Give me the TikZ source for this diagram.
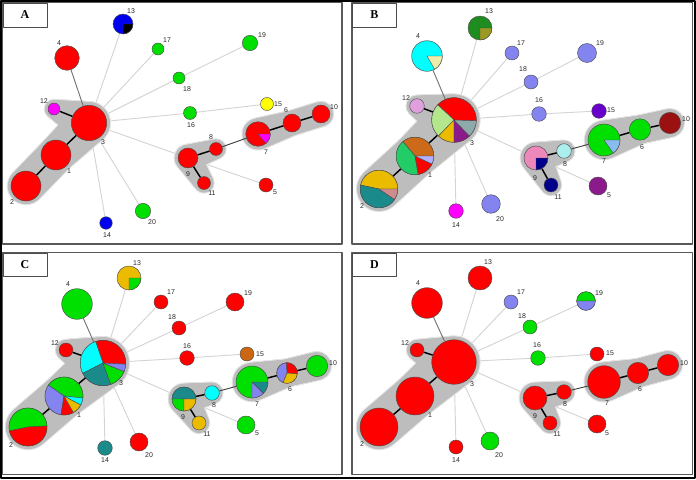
\documentclass[tikz,border=0pt]{standalone}
\usepackage{fontspec}
\setmainfont{Liberation Serif}
\setsansfont{Liberation Sans}
\usetikzlibrary{calc,backgrounds}

\definecolor{hred}{HTML}{FF0000}
\definecolor{hgreen}{HTML}{00E000}
\definecolor{hblue}{HTML}{0000F0}
\definecolor{hmag}{HTML}{FF00FF}
\definecolor{hyel}{HTML}{FFFF00}
\definecolor{hperi}{HTML}{8484F0}
\definecolor{hcyan}{HTML}{00FFFF}
\definecolor{hpale}{HTML}{EEEEAA}
\definecolor{hdkgreen}{HTML}{1E8C1E}
\definecolor{holive}{HTML}{9A9A22}
\definecolor{horchid}{HTML}{E0A0E0}
\definecolor{hlime}{HTML}{B4E68C}
\definecolor{hgold}{HTML}{EBBB00}
\definecolor{hpurple}{HTML}{8B1A8B}
\definecolor{hslate}{HTML}{8FAAAA}
\definecolor{hochre}{HTML}{CC6A1A}
\definecolor{hsea}{HTML}{22CC66}
\definecolor{hlav}{HTML}{B0B0FF}
\definecolor{hteal}{HTML}{1A8A8A}
\definecolor{hrose}{HTML}{D08C8C}
\definecolor{hpink}{HTML}{EE88BB}
\definecolor{hnavy}{HTML}{00008B}
\definecolor{hice}{HTML}{AAEEEE}
\definecolor{hsky}{HTML}{88BBEE}
\definecolor{hmaroon}{HTML}{9B1111}
\definecolor{hviolet}{HTML}{6A00CC}
\definecolor{hrust}{HTML}{CC6611}

% shaded zone along one link: circles of growing radius
\newcommand{\halo}[4]{%
  \foreach \t in {0,0.05,...,1.001}
    \fill[#4] let \p1=($(#1.east)-(#1.center)$), \p2=($(#2.east)-(#2.center)$)
      in ($(#1.center)!\t!(#2.center)$) circle[radius={(1-\t)*\x1+\t*\x2+#3}];}

% pie slices on a haplotype node
\newcommand{\pie}[3]{%
  \foreach \sa/\ea/\col in {#3}
    \filldraw[slice, fill=\col] (#1.center) -- ++(\sa:{#2*0.75pt})
      arc[start angle=\sa, end angle=\ea, radius={#2*0.75pt}] -- cycle;}

% haplotype nodes and their numbers
\newcommand{\haps}[2]{%
  \foreach \hn/\nx/\ny/\nr/\nc/\tx/\ty in {#2}{
    \node[hap=\nr, fill=\nc] (#1\hn) at (\nx,\ny) {};
    \node[num] (l#1\hn) at (\tx,\ty) {\hn};}}

% spanning tree links of one panel
\newcommand{\mstlinks}[1]{%
  \begin{pgfonlayer}{background}
    \foreach \u/\v in {3/13,3/17,3/18,18/19,3/16,16/15,3/9,9/5,3/14,3/20}
      \draw[faint] (#1\u) -- (#1\v);
    \foreach \u/\v in {3/12,3/1,1/2,9/8,9/11,7/6,6/10}
      \halo{#1\u}{#1\v}{3pt}{black!11};
    \foreach \u/\v in {3/12,3/1,1/2,9/8,9/11,7/6,6/10}
      \halo{#1\u}{#1\v}{2.2pt}{black!26};
  \end{pgfonlayer}
  \draw[stem] (#14) -- (#13);
  \draw[stem, draw=black!75] (#18) -- (#17);
  \foreach \u/\v in {3/12,3/1,1/2,9/8,9/11,7/6,6/10}
    \draw[bond] (#1\u) -- (#1\v);}

\begin{document}
\begin{tikzpicture}[x=0.75pt, y=-0.75pt, line join=round,
    hap/.style={circle, draw=black!70, line width=0.35pt, inner sep=0pt, minimum size={1.5pt*#1}},
    num/.style={inner sep=0pt, text=black!85, font=\sffamily\fontsize{5.2}{6}\selectfont},
    slice/.style={draw=black!70, line width=0.3pt},
    faint/.style={draw=black!17, line width=0.7pt},
    stem/.style={draw=black!55, line width=0.7pt},
    bond/.style={draw=black, line width=1.1pt},
    panel/.style={draw=black!65, line width=0.8pt},
    tag/.style={draw=black!70, line width=0.6pt, inner sep=0pt, minimum width=33pt,
      minimum height=18pt, font=\rmfamily\bfseries\fontsize{9}{10}\selectfont}]
  \useasboundingbox (0,0) rectangle (696,479);

  % frames
  \draw[panel] (2.5,2.5) rectangle (342,244);
  \draw[panel] (352,2.5) rectangle (692.5,244);
  \draw[panel] (2.5,252.5) rectangle (342,474.5);
  \draw[panel] (352,252.5) rectangle (692.5,474.5);
  \draw[black, line width=1.4pt] (0.9,0.9) rectangle (695.1,478.1);
  \node[tag, anchor=north west] (tA) at (2.5,2.5) {A};
  \node[tag, anchor=north west] (tB) at (352,2.5) {B};
  \node[tag, anchor=north west, minimum height=17.5pt] (tC) at (2.5,252.5) {C};
  \node[tag, anchor=north west, minimum height=17.5pt] (tD) at (352,252.5) {D};

  % panel A
  \haps{a}{13/123/24/10/hblue/131/11, 4/67/58/12.3/hred/59/43,
    17/158/49/6/hgreen/167/40, 19/250/43/7.7/hgreen/262/35,
    18/179/78/6/hgreen/187/89, 12/54/109/6/hmag/44/101,
    3/89/123/17.7/hred/103/142, 16/190/113/6.5/hgreen/191/125,
    15/267/104/6.5/hyel/278/104, 10/321/114/9/hred/334/107,
    6/292/123/9/hred/286/110, 7/258/134/12.3/hred/266/152,
    8/216/149/6.5/hred/211/137, 9/188/158/10/hred/188/174,
    11/204/183/6.5/hred/212/193, 5/266/185/7/hred/275/192,
    1/56/155/15/hred/69/171, 2/26/186/15/hred/12/202,
    20/143/211/7.7/hgreen/152/222, 14/106/223/6.3/hblue/107/235}
  \mstlinks{a}
  \pie{a13}{10}{-90/0/black}
  \pie{a7}{12.3}{-50/0/hmag}

  % panel B
  \haps{b}{13/480/28/12/hdkgreen/489/11, 4/427/56/15.3/hcyan/418/36,
    17/512/53/7/hperi/521/43, 19/587/53/9.5/hperi/600/43,
    18/531/82/7/hperi/523/69, 12/417/106/7.3/horchid/406/98,
    3/454/120/22.3/hred/472/143, 16/539/114/7.3/hperi/539/100,
    15/599/111/7.3/hviolet/611/110, 10/670/123/10.7/hmaroon/686/119,
    6/640/129.5/10.7/hgreen/642/147, 7/604/140/16/hgreen/604/161,
    8/564/151/7.3/hice/565/164, 9/536/158/12/hpink/535/178,
    11/551/185/7/hnavy/558/197, 5/598/186/9/hpurple/609/195,
    1/415/156/18.8/hsea/430/175, 2/379/189/18.8/hteal/362/206,
    20/491/204/9.3/hperi/500/219, 14/456/211/7.3/hmag/456/225}
  \mstlinks{b}
  \pie{b13}{12}{-90/0/holive}
  \pie{b4}{15.3}{-60/0/hpale}
  \pie{b3}{22.3}{-2/137/hred, 137/226/hlime, 226/270/hgold, 270/314/hpurple, 314/358/hslate}
  \pie{b1}{18.8}{0/130/hochre, 130/280/hsea, 280/335/hred, 335/360/hlav}
  \pie{b2}{18.8}{0/168/hgold, 168/326/hteal, 326/360/hrose}
  \pie{b9}{12}{-90/0/hnavy}
  \pie{b7}{16}{-55/0/hsky}

  % panel C
  \haps{c}{13/129/278/12/hgold/137/263, 4/77/304/15.3/hgreen/68/284,
    17/161/302/7/hred/171/292, 19/235/302/9/hred/248/293,
    18/179/328/7/hred/172/317, 12/66/350/7/hred/55/343,
    3/103/363/22.7/hred/121/383, 16/187/358/7.3/hred/187/346,
    15/247/354/7/hrust/260/354, 10/317/366/10.7/hgreen/333/363,
    6/287/373/10.3/hred/290/389, 7/252/382/16/hgreen/257/404,
    8/212/393/7.3/hcyan/214/405, 9/184/399/12/hteal/183/417,
    11/199/423/7/hgold/207/434, 5/246/425/9/hgreen/257/433,
    1/64/396/19/hgreen/79/415, 2/28/427/19/hgreen/11/445,
    20/139/442/9/hred/149/455, 14/105/448/7.3/hteal/105/460}
  \mstlinks{c}
  \pie{c13}{12}{-90/0/hgreen}
  \pie{c3}{22.7}{-3/109/hred, 109/207/hcyan, 207/290/hteal, 290/338/hgreen, 338/357/hperi}
  \pie{c1}{19}{-6/145/hgreen, 145/261/hperi, 261/300/hred, 300/332/hgold, 332/354/hcyan}
  \pie{c2}{19}{3/192/hgreen, 192/363/hred}
  \pie{c9}{12}{0/180/hteal, 180/270/hgreen, 270/360/hgold}
  \pie{c7}{16}{-45/0/hteal, -90/-45/hperi}
  \pie{c6}{10.3}{-5/95/hred, 95/248/hperi, 248/355/hgold}

  % panel D
  \haps{d}{13/480/278/12/hred/488/262, 4/427/303/15.3/hred/418/283,
    17/511/302/7/hperi/521/292, 19/586/301/9.3/hgreen/599/293,
    18/530/327/7/hgreen/522/316, 12/417/350/7/hred/405/343,
    3/454/362/22.3/hred/472/384, 16/538/358/7.3/hgreen/537/345,
    15/597/354/7/hred/610/353, 10/668/365/10.7/hred/684/363,
    6/638/373/10.7/hred/640/389, 7/604/382/16.3/hred/607/403,
    8/564/392/7.3/hred/565/404, 9/535/398/12/hred/535/416,
    11/550/423/7/hred/557/434, 5/597/424/9/hred/607/433,
    1/415/396/19/hred/430/415, 2/379/427/19/hred/362/444,
    20/490/441/9/hgreen/499/455, 14/456/447/7/hred/456/460}
  \mstlinks{d}
  \pie{d19}{9.3}{0/180/hgreen, 180/360/hperi}
\end{tikzpicture}
\end{document}
